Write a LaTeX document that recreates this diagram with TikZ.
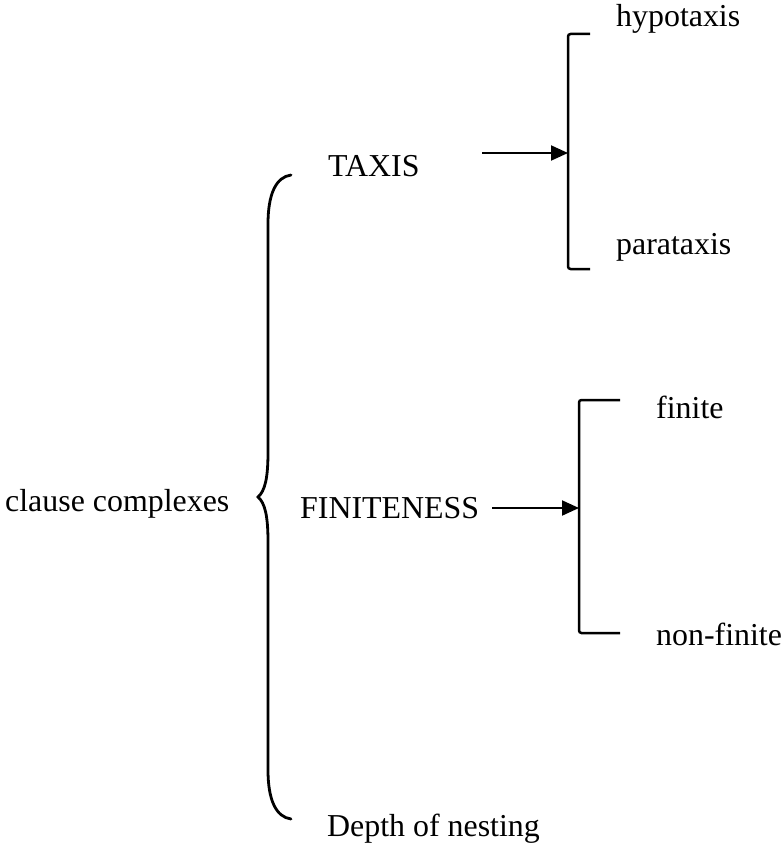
\documentclass[tikz,border=0pt]{standalone}
\usepackage{fontspec}
\setmainfont{Liberation Serif}
\usetikzlibrary{arrows.meta}
\begin{document}
\begin{tikzpicture}[x=1pt,y=-1pt,
  lbl/.style={anchor=base west,inner sep=0pt,font=\fontsize{31.9}{38}\selectfont},
  brace/.style={line width=2.8pt,line cap=round},
  bracket/.style={line width=2.5pt,rounded corners=2.5pt},
  pointer/.style={line width=2pt,-{Triangle[length=17pt,width=15pt]}}]
\useasboundingbox (0,0) rectangle (783,843);

% labels
\node[lbl] (cc)    at (5,511.5)   {clause complexes};
\node[lbl] (taxis) at (328,176)   {TAXIS};
\node[lbl] (fin)   at (300,518)   {FINITENESS};
\node[lbl] (depth) at (327,836)   {Depth of nesting};
\node[lbl] (hypo)  at (616,26.5)  {hypotaxis};
\node[lbl] (para)  at (616,254)   {parataxis};
\node[lbl] (fint)  at (656,418)   {finite};
\node[lbl] (nonf)  at (656,645)   {non-finite};

% large curly brace
\draw[brace] (291,175) .. controls (276,177) and (268,194) .. (268,224)
  -- (268,452) .. controls (268,478) and (265,491) .. (258,497)
  .. controls (265,503) and (268,516) .. (268,542)
  -- (268,770) .. controls (268,800) and (276,817) .. (291,819);

% square brackets
\draw[bracket] (590,34) -- (568,34) -- (568,269) -- (590,269);
\draw[bracket] (620,400) -- (579,400) -- (579,633) -- (620,633);

% arrows into the brackets
\coordinate (t0) at (482,153);
\coordinate (t1) at (568,153);
\coordinate (f0) at (492,508);
\coordinate (f1) at (579,508);
\draw[pointer] (t0) -- (t1);
\draw[pointer] (f0) -- (f1);
\end{tikzpicture}
\end{document}
